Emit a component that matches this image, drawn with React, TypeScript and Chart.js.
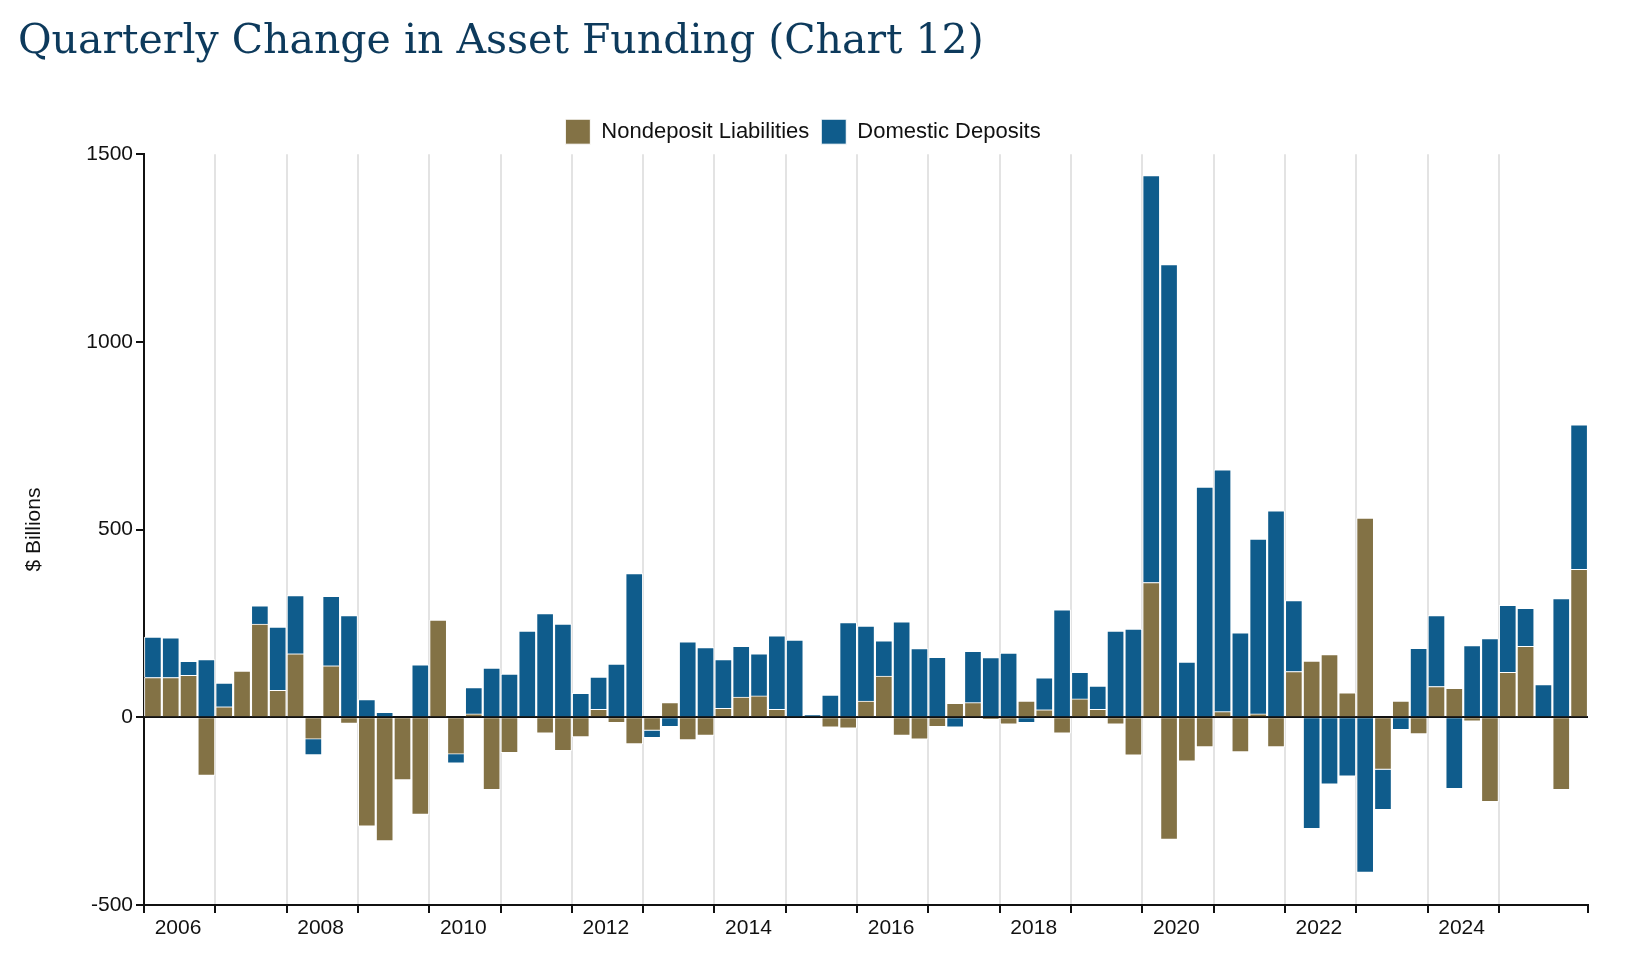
import React, { useEffect, useRef } from "react";
import { Chart, registerables } from "chart.js";
Chart.register(...registerables);

const nondeposit = [106,106,112,-155,28,123,248,72,169,-58,137,-16,-290,-329,-167,-259,259,-98,9,-193,
-94,0,-42,-89,-52,21,-14,-71,-35,39,-60,-48,24,54,57,21,0,0,-26,-29,
43,110,-48,-58,-25,37,39,-5,-18,43,20,-42,49,21,-18,-101,359,-325,-117,-79,
15,-92,9,-79,122,150,167,65,531,-139,43,-44,82,77,-10,-225,120,189,0,-193,394];
const deposits = [108,106,37,154,63,0,49,168,155,-42,185,271,47,13,0,140,0,-24,70,131,
115,230,276,248,64,86,142,383,-19,-25,201,186,130,135,112,196,206,6,59,252,
200,94,254,183,160,-26,137,159,171,-14,85,286,71,62,230,235,1084,1206,147,613,
644,225,466,550,189,-297,-178,-157,-413,-107,-33,184,189,-190,191,210,178,101,87,316,385];
const quarterX = nondeposit.map((_, i) => 2006 + i * 0.25 + 0.125);
const seriesNames = ["Nondeposit Liabilities", "Domestic Deposits"];

export default function App() {
  const ref = useRef<HTMLCanvasElement>(null);
  useEffect(() => {
    const font = "'Liberation Sans', Arial, sans-serif";
    const chart = new Chart(ref.current!, {
      type: "bar",
      data: {
        datasets: [
          { label: seriesNames[0], data: quarterX.map((x, i) => ({ x, y: nondeposit[i] })), backgroundColor: "#837245", borderColor: "#ffffff", borderWidth: 1, barThickness: 17 } as any,
          { label: seriesNames[1], data: quarterX.map((x, i) => ({ x, y: deposits[i] })), backgroundColor: "#0f5c8c", borderColor: "#ffffff", borderWidth: 1, barThickness: 17 } as any,
        ],
      },
      options: {
        animation: false,
        responsive: false,
        layout: { padding: { left: 18, right: 54, top: 0, bottom: 0 } },
        plugins: {
          title: { display: true, text: "Quarterly Change in Asset Funding (Chart 12)", align: "start", color: "#0d3a5c",
            font: { family: "'DejaVu Serif', serif", size: 41, weight: "normal" }, padding: { top: 18, bottom: 40 } },
          legend: { labels: { boxWidth: 25, boxHeight: 25, color: "#111", font: { family: font, size: 22 }, padding: 12 } },
          tooltip: { enabled: false },
        },
        scales: {
          x: {
            type: "linear", stacked: true, min: 2006, max: 2026.25, offset: false,
            afterFit: (s: any) => { s.height = 57; },
            ticks: { stepSize: 1, autoSkip: false, maxRotation: 0, labelOffset: 34, color: "#111", font: { family: font, size: 21 },
              callback: (v: any) => (Number.isInteger(v) && v % 2 === 0 ? String(v) : "") },
            grid: { offset: false, color: (c: any) => (Number.isInteger(c.tick?.value) && c.tick.value > 2006 ? "#e3e3e3" : "transparent"), lineWidth: 2, tickColor: "#111", tickLength: 8, drawTicks: true },
            border: { color: "#111", width: 2 },
          },
          y: {
            stacked: true, min: -500, max: 1500,
            afterFit: (s: any) => { s.width = 126; },
            ticks: { stepSize: 500, color: "#111", font: { family: font, size: 21 }, callback: (v: any) => String(v) },
            grid: { color: (c: any) => (c.tick?.value === 0 ? "#111" : "transparent"), lineWidth: 2, tickColor: "#111", tickLength: 8 },
            border: { color: "#111", width: 2 },
            title: { display: true, text: "$ Billions", color: "#111", font: { family: font, size: 21 } },
          },
        },
      },
    });
    return () => chart.destroy();
  }, []);
  return (
    <div style={{ position: "fixed", left: 0, top: 0, width: 1642, height: 962, background: "#fff" }}>
      <canvas ref={ref} width={1642} height={962} style={{ width: 1642, height: 962 }} />
    </div>
  );
}
